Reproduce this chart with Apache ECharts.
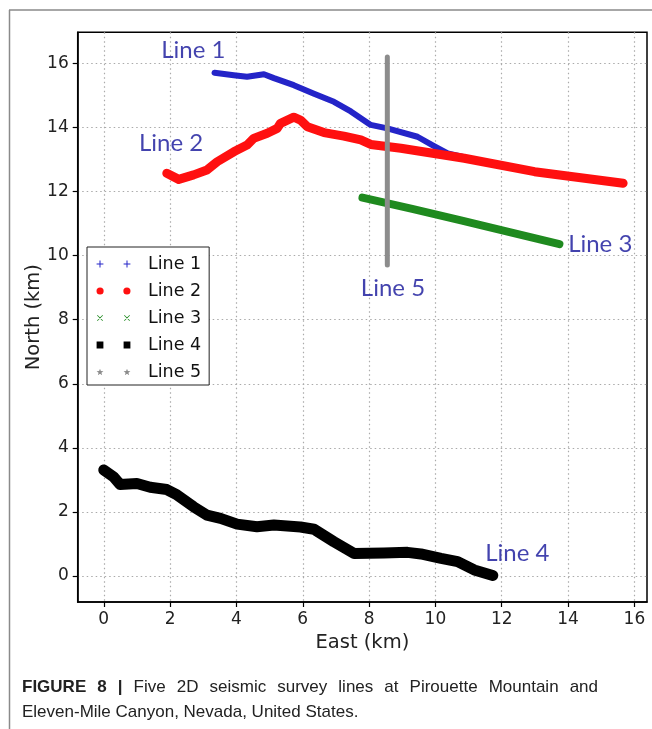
<!DOCTYPE html>
<html>
<head>
<meta charset="utf-8">
<script src="https://cdn.jsdelivr.net/npm/echarts@6/dist/echarts.min.js"></script>
<style>
html,body{margin:0;padding:0;background:#fff;}
#chart{width:652px;height:729px;}
</style>
</head>
<body>
<div id="chart"></div>
<script>
// ---- data (km East, km North) ----
var line1 = [[3.34,15.71],[3.92,15.63],[4.32,15.58],[4.83,15.66],[5.13,15.54],[5.73,15.32],[6.34,15.05],[6.94,14.80],[7.45,14.50],[8.05,14.08],[8.55,13.97],[9.46,13.71],[9.96,13.42],[10.37,13.19],[10.87,13.07]];
var line2 = [[1.90,12.57],[2.26,12.38],[2.71,12.52],[3.11,12.67],[3.42,12.93],[3.92,13.24],[4.32,13.45],[4.52,13.66],[4.93,13.82],[5.23,13.97],[5.33,14.13],[5.73,14.32],[5.93,14.23],[6.14,14.02],[6.64,13.84],[7.24,13.73],[7.75,13.61],[8.05,13.47],[8.96,13.35],[10.87,13.04],[12.99,12.62],[15.66,12.26]];
var line3 = [[7.80,11.81],[9.30,11.46],[10.77,11.10],[12.30,10.72],[13.74,10.36]];
var line4 = [[0.00,3.31],[0.29,3.10],[0.49,2.86],[1.00,2.89],[1.40,2.77],[1.90,2.70],[2.21,2.53],[2.71,2.16],[3.11,1.90],[3.52,1.80],[4.02,1.62],[4.62,1.54],[5.13,1.59],[5.93,1.53],[6.34,1.46],[6.94,1.07],[7.55,0.70],[8.45,0.72],[9.16,0.74],[9.56,0.69],[10.17,0.55],[10.67,0.45],[11.17,0.19],[11.73,0.02]];
var line5 = [[8.55,16.20],[8.55,9.71]];

var seriesNames = ['Line 1','Line 2','Line 3','Line 4','Line 5'];
var seriesColors = ['#2424c8','#ff1010','#1f8a1f','#000000','#8c8c8c'];

var labelNames = ['Line 1','Line 2','Line 3','Line 5','Line 4'];
var labelX = [2.70, 2.03, 14.97, 8.72, 12.47];
var labelY = [16.42, 13.51, 10.36, 8.99, 0.72];

var xTicks = [0,2,4,6,8,10,12,14,16];
var yTicks = [0,2,4,6,8,10,12,14,16];

var captionBold = ['FIGURE', '8', '|'];
var captionLine1 = ['Five', '2D', 'seismic', 'survey', 'lines', 'at', 'Pirouette', 'Mountain', 'and'];
var captionLine2 = 'Eleven-Mile Canyon, Nevada, United States.';

// ---- legend marker icons (two markers per entry) ----
function fmt(v){return (Math.round(v*100)/100).toString();}
function markerPath(kind, cx, cy){
  var s = '';
  if (kind === 'plus') {
    s += 'M'+fmt(cx-3.4)+','+fmt(cy-0.5)+'h6.8v1h-6.8Z';
    s += 'M'+fmt(cx-0.5)+','+fmt(cy-3.4)+'h1v6.8h-1Z';
  } else if (kind === 'circle') {
    var r = 3.6;
    s += 'M'+fmt(cx-r)+','+fmt(cy)+'a'+r+','+r+' 0 1,0 '+fmt(2*r)+',0a'+r+','+r+' 0 1,0 '+fmt(-2*r)+',0Z';
  } else if (kind === 'x') {
    var d = 3, t = 0.55;
    s += 'M'+fmt(cx-d)+','+fmt(cy-d+t)+'L'+fmt(cx-d+t)+','+fmt(cy-d)+'L'+fmt(cx+d)+','+fmt(cy+d-t)+'L'+fmt(cx+d-t)+','+fmt(cy+d)+'Z';
    s += 'M'+fmt(cx+d-t)+','+fmt(cy-d)+'L'+fmt(cx+d)+','+fmt(cy-d+t)+'L'+fmt(cx-d+t)+','+fmt(cy+d)+'L'+fmt(cx-d)+','+fmt(cy+d-t)+'Z';
  } else if (kind === 'square') {
    s += 'M'+fmt(cx-3.4)+','+fmt(cy-3.4)+'h6.8v6.8h-6.8Z';
  } else if (kind === 'star') {
    var pts = [];
    for (var i = 0; i < 10; i++) {
      var ang = (-90 + i*36) * Math.PI/180;
      var rr = (i % 2 === 0) ? 3.6 : 1.5;
      pts.push(fmt(cx + rr*Math.cos(ang)) + ',' + fmt(cy + 0.3 + rr*Math.sin(ang)));
    }
    s += 'M' + pts.join('L') + 'Z';
  }
  return s;
}
function legendIcon(kind){
  return 'path://M0,0L0.01,0M34,7L33.99,7' + markerPath(kind, 3.5, 3.5) + markerPath(kind, 30.5, 3.5);
}
var legendKinds = ['plus','circle','x','square','star'];

var lineWidths = [6, 9, 8, 11, 5];
var lineData = [line1, line2, line3, line4, line5];

var series = [];
for (var k = 0; k < 5; k++) {
  series.push({
    name: seriesNames[k],
    type: 'line',
    data: lineData[k],
    showSymbol: false,
    symbol: 'none',
    smooth: false,
    silent: true,
    color: seriesColors[k],
    lineStyle: {color: seriesColors[k], width: lineWidths[k], cap: 'round', join: 'round'},
    z: 3 + k
  });
}
var labelData = [];
for (var j = 0; j < labelNames.length; j++) {
  labelData.push({name: labelNames[j], value: [labelX[j], labelY[j]]});
}
series.push({
  name: 'labels',
  type: 'scatter',
  data: labelData,
  symbolSize: 0.1,
  silent: true,
  itemStyle: {color: 'rgba(0,0,0,0)'},
  z: 10,
  label: {
    show: true,
    position: 'inside',
    formatter: function(p){ return p.name; },
    color: '#14149a',
    fontFamily: 'Lato',
    fontSize: 24
  }
});

var legendData = [];
for (var m = 0; m < 5; m++) {
  legendData.push({name: seriesNames[m], icon: legendIcon(legendKinds[m])});
}

// caption: justified first line (word gaps computed from measured word widths)
var capFont = '"Liberation Sans", Arial, sans-serif';
var capSize = 17;
var capLeft = 22, capRight = 598;
var mctx = document.createElement('canvas').getContext('2d');
var wordsW = 0;
mctx.font = 'bold ' + capSize + 'px ' + capFont;
for (var b = 0; b < captionBold.length; b++) wordsW += mctx.measureText(captionBold[b]).width;
mctx.font = capSize + 'px ' + capFont;
for (var w = 0; w < captionLine1.length; w++) wordsW += mctx.measureText(captionLine1[w]).width;
var nGaps = captionBold.length + captionLine1.length - 1;
var gapW = Math.max(3, (capRight - capLeft - wordsW) / nGaps);

var capParts = [];
for (var b2 = 0; b2 < captionBold.length; b2++) capParts.push('{b|' + captionBold[b2] + '}');
for (var w2 = 0; w2 < captionLine1.length; w2++) capParts.push('{r|' + captionLine1[w2] + '}');
var capText = capParts.join('{g| }');

var chart = echarts.init(document.getElementById('chart'), null, {renderer: 'canvas'});
chart.setOption({
  animation: false,
  backgroundColor: '#ffffff',
  grid: {
    left: 77.7, right: 5, top: 32.3, bottom: 127,
    show: true, borderColor: '#000', borderWidth: 1.5, backgroundColor: 'rgba(0,0,0,0)'
  },
  legend: {
    data: legendData,
    orient: 'vertical',
    left: 87, top: 247,
    padding: [7, 8, 3, 9.5],
    itemWidth: 34, itemHeight: 7,
    itemGap: 7,
    symbolKeepAspect: false,
    selectedMode: false,
    backgroundColor: '#fff',
    borderColor: '#222', borderWidth: 1,
    itemStyle: {borderWidth: 0},
    textStyle: {fontFamily: 'DejaVu Sans', fontSize: 17.5, color: '#111', lineHeight: 20, padding: [0,0,0,12.5]}
  },
  xAxis: {
    type: 'value', min: -0.786, max: 16.38,
    name: 'East (km)', nameLocation: 'middle', nameGap: 28,
    nameTextStyle: {fontFamily: 'DejaVu Sans', fontSize: 19.5, color: '#222'},
    axisLine: {show: true, onZero: false, lineStyle: {color: '#000', width: 1.5}},
    axisTick: {show: true, customValues: xTicks, length: 5, lineStyle: {color: '#000', width: 1.2}},
    axisLabel: {customValues: xTicks, margin: 9, fontFamily: 'DejaVu Sans', fontSize: 17, color: '#222'},
    splitLine: {show: true, lineStyle: {color: '#aaa', width: 1.2, type: [1.5, 3]}}
  },
  yAxis: {
    type: 'value', min: -0.81, max: 16.97,
    name: 'North (km)', nameLocation: 'middle', nameGap: 34, nameRotate: 90,
    nameMoveOverlap: false,
    nameTextStyle: {fontFamily: 'DejaVu Sans', fontSize: 19.5, color: '#222'},
    axisLine: {show: true, onZero: false, lineStyle: {color: '#000', width: 1.5}},
    axisTick: {show: true, customValues: yTicks, length: 5, lineStyle: {color: '#000', width: 1.2}},
    axisLabel: {customValues: yTicks, margin: 9, fontFamily: 'DejaVu Sans', fontSize: 17, color: '#222'},
    splitLine: {show: true, lineStyle: {color: '#aaa', width: 1.2, type: [1.5, 3]}}
  },
  graphic: [
    {type: 'line', shape: {x1: 9, y1: 10, x2: 652, y2: 10}, style: {stroke: '#8a8a8a', lineWidth: 1.5}, silent: true},
    {type: 'line', shape: {x1: 9.5, y1: 10, x2: 9.5, y2: 729}, style: {stroke: '#8a8a8a', lineWidth: 1.5}, silent: true},
    {type: 'text', left: capLeft, top: 679, silent: true,
      style: {text: capText, fill: '#222',
        rich: {
          b: {fontWeight: 'bold', fontFamily: 'Liberation Sans', fontSize: capSize, fill: '#222'},
          r: {fontFamily: 'Liberation Sans', fontSize: capSize, fill: '#222'},
          g: {fontFamily: 'Liberation Sans', fontSize: capSize, width: gapW}
        }}},
    {type: 'text', left: capLeft, top: 704, silent: true,
      style: {text: captionLine2, fontFamily: 'Liberation Sans', fontSize: capSize, fill: '#222'}}
  ],
  series: series
});
</script>
</body>
</html>
